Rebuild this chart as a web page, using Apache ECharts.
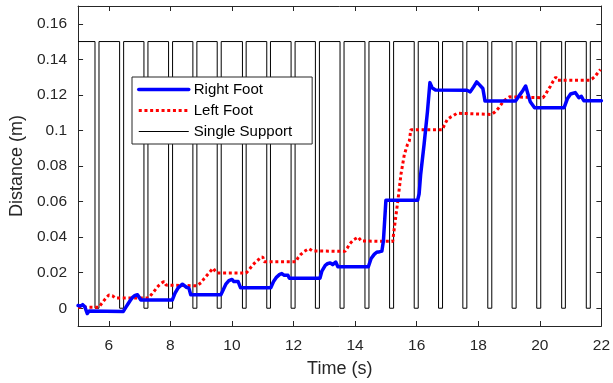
<!DOCTYPE html>
<html>
<head>
<meta charset="utf-8">
<script src="https://cdn.jsdelivr.net/npm/echarts@6/dist/echarts.min.js"></script>
<style>
  html, body { margin: 0; padding: 0; background: #fff; }
  #chart { width: 613px; height: 383px; }
</style>
</head>
<body>
<div id="chart"></div>
<script>
// Foot positions over time: [time (s), distance (m)]
const rightFoot = [
  [5.00, 0.0015], [5.08, 0.0012], [5.15, 0.0020], [5.22, 0.0008], [5.30, -0.0030],
  [5.36, -0.0015], [5.42, -0.0018], [6.47, -0.0018], [6.55, 0.0005], [6.62, 0.0024],
  [6.70, 0.0045], [6.77, 0.0061], [6.85, 0.0072], [6.93, 0.0076], [6.98, 0.0082],
  [7.04, 0.0046], [8.06, 0.0046], [8.15, 0.0085], [8.25, 0.0115], [8.39, 0.0135],
  [8.45, 0.0125], [8.52, 0.0118], [8.60, 0.0113], [8.66, 0.0076], [9.64, 0.0076],
  [9.72, 0.0105], [9.80, 0.0135], [9.90, 0.0155], [10.00, 0.0162], [10.06, 0.0150],
  [10.12, 0.0143], [10.20, 0.0150], [10.28, 0.0115], [11.26, 0.0115], [11.35, 0.0150],
  [11.45, 0.0175], [11.55, 0.0190], [11.62, 0.0195], [11.70, 0.0185], [11.76, 0.0195],
  [11.82, 0.0185], [11.86, 0.0169], [12.86, 0.0169], [12.92, 0.0209], [13.03, 0.0241],
  [13.10, 0.0250], [13.19, 0.0255], [13.27, 0.0245], [13.33, 0.0255], [13.37, 0.0260],
  [13.44, 0.0233], [14.43, 0.0233], [14.52, 0.0280], [14.62, 0.0303], [14.70, 0.0315],
  [14.80, 0.0318], [14.87, 0.0322], [14.92, 0.0380], [15.00, 0.0607], [16.03, 0.0607],
  [16.08, 0.0644], [16.13, 0.0754], [16.24, 0.0921], [16.35, 0.1106], [16.43, 0.1269],
  [16.50, 0.1240], [16.56, 0.1235], [16.61, 0.1228], [17.63, 0.1226], [17.74, 0.1217],
  [17.85, 0.1245], [17.95, 0.1273], [18.05, 0.1255], [18.15, 0.1236], [18.22, 0.1165],
  [19.21, 0.1165], [19.34, 0.1198], [19.45, 0.1225], [19.54, 0.1250], [19.61, 0.1208],
  [19.69, 0.1162], [19.75, 0.1155], [19.83, 0.1128], [20.79, 0.1128], [20.90, 0.1180],
  [21.00, 0.1205], [21.06, 0.1213], [21.15, 0.1213], [21.27, 0.1184], [21.35, 0.1192],
  [21.43, 0.1167], [22.00, 0.1167]
];

const leftFoot = [
  [5.00, 0.0006], [5.68, 0.0006], [5.76, 0.0025], [5.84, 0.0043], [5.92, 0.0060],
  [6.00, 0.0074], [6.05, 0.0080], [6.12, 0.0070], [6.20, 0.0058], [7.29, 0.0058],
  [7.39, 0.0078], [7.50, 0.0102], [7.61, 0.0126], [7.70, 0.0140], [7.79, 0.0150],
  [7.86, 0.0130], [7.92, 0.0126], [8.86, 0.0126], [9.00, 0.0144], [9.10, 0.0168],
  [9.21, 0.0190], [9.30, 0.0208], [9.39, 0.0225], [9.45, 0.0210], [9.52, 0.0198],
  [10.46, 0.0198], [10.57, 0.0220], [10.68, 0.0245], [10.80, 0.0265], [10.92, 0.0282],
  [11.00, 0.0289], [11.05, 0.0261], [12.07, 0.0261], [12.15, 0.0285], [12.23, 0.0302],
  [12.35, 0.0320], [12.50, 0.0335], [12.55, 0.0339], [12.62, 0.0322], [13.67, 0.0320],
  [13.75, 0.0340], [13.83, 0.0363], [13.95, 0.0385], [14.10, 0.0400], [14.20, 0.0378],
  [15.22, 0.0376], [15.28, 0.0459], [15.39, 0.0607], [15.49, 0.0754], [15.60, 0.0865],
  [15.70, 0.0920], [15.76, 0.0940], [15.81, 0.1004], [16.83, 0.1004], [16.90, 0.1030],
  [16.99, 0.1060], [17.10, 0.1075], [17.20, 0.1084], [17.31, 0.1097], [17.36, 0.1090],
  [18.43, 0.1090], [18.55, 0.1105], [18.65, 0.1124], [18.76, 0.1150], [18.86, 0.1170],
  [18.95, 0.1182], [19.02, 0.1189], [19.06, 0.1184], [20.10, 0.1184], [20.18, 0.1200],
  [20.26, 0.1226], [20.35, 0.1250], [20.42, 0.1273], [20.52, 0.1300], [20.58, 0.1282],
  [21.62, 0.1282], [21.70, 0.1290], [21.80, 0.1305], [21.86, 0.1319], [21.97, 0.1343]
];

// Double-support intervals (both feet down): start and end times (s)
const doubleStart = [5.55, 6.35, 7.14, 7.94, 8.73, 9.52, 10.34, 11.13, 11.92, 12.71, 13.51,
                     14.32, 15.12, 15.92, 16.71, 17.50, 18.31, 19.10, 19.90, 20.71, 21.51];
const doubleEnd   = [5.68, 6.48, 7.27, 8.07, 8.86, 9.65, 10.46, 11.25, 12.05, 12.84, 13.64,
                     14.45, 15.25, 16.05, 16.84, 17.63, 18.44, 19.23, 20.03, 20.83, 21.64];
const supportHigh = 0.15;
const supportLow = 0;
const timeRange = [5, 22];

// Tick positions
const xTicks = [6, 8, 10, 12, 14, 16, 18, 20, 22];
const yTicks = [0, 0.02, 0.04, 0.06, 0.08, 0.1, 0.12, 0.14, 0.16];

// Single-support indicator as a square wave
const singleSupport = [[timeRange[0], supportHigh]];
doubleStart.forEach((t0, i) => {
  const t1 = doubleEnd[i];
  singleSupport.push([t0, supportHigh], [t0, supportLow], [t1, supportLow], [t1, supportHigh]);
});
singleSupport.push([timeRange[1], supportHigh]);

const FONT = '"Liberation Sans", Arial, Helvetica, sans-serif';
const INK = '#262626';
const BLUE = '#0000ff';
const RED = '#ff0000';
const DOT = [3, 2.7];

const chart = echarts.init(document.getElementById('chart'), null, { renderer: 'canvas' });

const baseAxisX = {
  type: 'value', min: timeRange[0], max: timeRange[1],
  splitLine: { show: false },
  axisLine: { show: true, onZero: false, lineStyle: { color: INK, width: 1 } },
  axisTick: { show: true, inside: true, length: 5, customValues: xTicks, lineStyle: { color: INK } }
};
const baseAxisY = {
  type: 'value', min: -0.01, max: 0.17,
  splitLine: { show: false },
  axisLine: { show: true, onZero: false, lineStyle: { color: INK, width: 1 } },
  axisTick: { show: true, inside: true, length: 5, customValues: yTicks, lineStyle: { color: INK } }
};

chart.setOption({
  animation: false,
  backgroundColor: '#fff',
  textStyle: { fontFamily: FONT },
  grid: { left: 77, top: 6, width: 529, height: 324, containLabel: false },
  xAxis: [
    Object.assign({}, baseAxisX, {
      position: 'bottom',
      name: 'Time (s)', nameLocation: 'middle', nameGap: 34,
      nameTextStyle: { fontFamily: FONT, fontSize: 18, color: INK },
      axisLabel: { show: true, customValues: xTicks, margin: 12, fontFamily: FONT, fontSize: 15.5, color: INK }
    }),
    Object.assign({}, baseAxisX, { position: 'top', axisLabel: { show: false } })
  ],
  yAxis: [
    Object.assign({}, baseAxisY, {
      position: 'left',
      name: 'Distance (m)', nameLocation: 'middle', nameGap: 50,
      nameTextStyle: { fontFamily: FONT, fontSize: 18, color: INK },
      axisLabel: { show: true, customValues: yTicks, margin: 11, fontFamily: FONT, fontSize: 15.5, color: INK }
    }),
    Object.assign({}, baseAxisY, { position: 'right', axisLabel: { show: false } })
  ],
  legend: {
    show: true,
    orient: 'vertical',
    left: 132, top: 77,
    padding: [5, 20, 5, 5],
    itemWidth: 50, itemHeight: 14, itemGap: 6,
    backgroundColor: '#fff',
    borderColor: INK, borderWidth: 1,
    itemStyle: { opacity: 0 },
    textStyle: { fontFamily: FONT, fontSize: 15, color: '#000' },
    data: [
      { name: 'Right Foot', lineStyle: { color: BLUE, width: 3.5, type: 'solid' } },
      { name: 'Left Foot', lineStyle: { color: RED, width: 3, type: DOT } },
      { name: 'Single Support', lineStyle: { color: '#000', width: 1, type: 'solid' } }
    ]
  },
  series: [
    {
      name: 'Single Support', type: 'line', data: singleSupport,
      xAxisIndex: 0, yAxisIndex: 0,
      symbol: 'none', z: 1,
      lineStyle: { color: '#000', width: 1 },
      itemStyle: { color: '#000' }
    },
    {
      name: 'Right Foot', type: 'line', data: rightFoot,
      xAxisIndex: 0, yAxisIndex: 0,
      symbol: 'none', z: 3,
      lineStyle: { color: BLUE, width: 3.5, join: 'round', cap: 'round' },
      itemStyle: { color: BLUE }
    },
    {
      name: 'Left Foot', type: 'line', data: leftFoot,
      xAxisIndex: 0, yAxisIndex: 0,
      symbol: 'none', z: 2,
      lineStyle: { color: RED, width: 3, type: DOT, cap: 'butt' },
      itemStyle: { color: RED }
    }
  ]
});
</script>
</body>
</html>
